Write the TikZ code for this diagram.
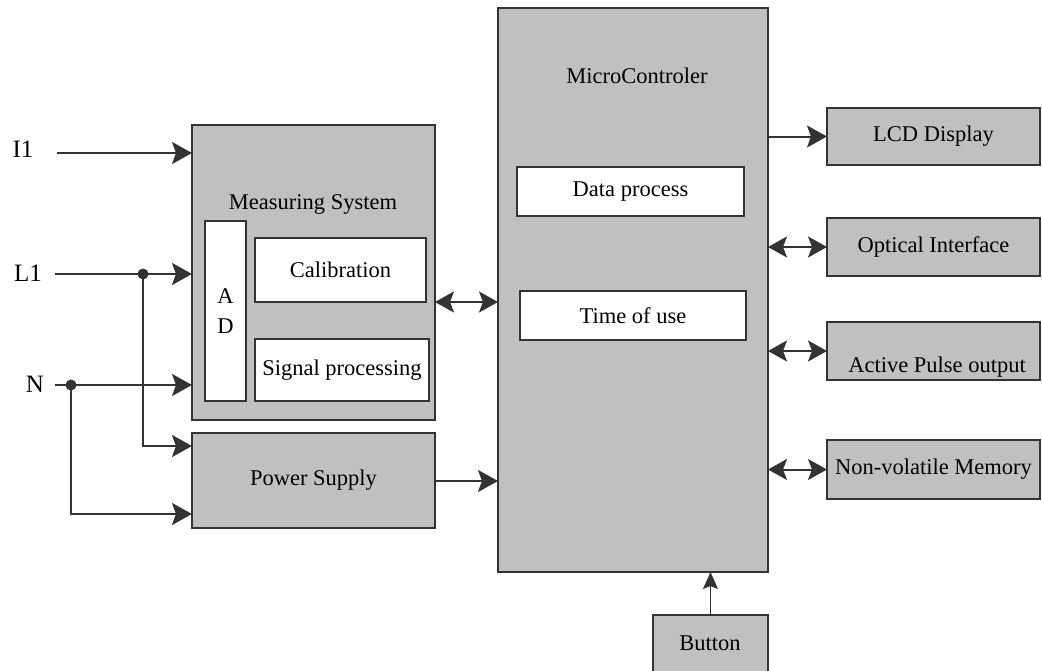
\documentclass[tikz,border=0pt]{standalone}
\usepackage{fontspec}
\setmainfont{Liberation Serif}
\usetikzlibrary{arrows.meta,calc}
\definecolor{boxgray}{HTML}{C0C0C0}
\definecolor{ink}{HTML}{333333}
\begin{document}
\begin{tikzpicture}[x=1pt,y=-1pt,
  box/.style={draw=ink, line width=1.2pt, fill=boxgray, inner sep=0pt, outer sep=0pt, anchor=north west, font=\fontsize{22.5}{30}\selectfont, align=center},
  wbox/.style={box, fill=white},
  txt/.style={inner sep=0pt, font=\fontsize{22.5}{27}\selectfont},
  lbl/.style={inner sep=0pt, font=\fontsize{25}{30}\selectfont},
  wire/.style={draw=ink, line width=2pt},
  arr/.style={wire, -{Stealth[length=20pt,width=22pt,inset=4pt]}},
  darr/.style={wire, {Stealth[length=19pt,width=21pt,inset=4pt]}-{Stealth[length=19pt,width=21pt,inset=4pt]}},
  barr/.style={draw=ink, line width=1pt, -{Stealth[length=17pt,width=15pt,inset=3pt]}},
  dot/.style={circle, fill=ink, inner sep=0pt, minimum size=11pt}]
\useasboundingbox[fill=white] (0,0) rectangle (1042,670);

% left blocks
\node[box, minimum width=243, minimum height=295] (ms) at (192,125) {};
\node[txt] (mst) at (313,204) {Measuring System};
\node[box, minimum width=243, minimum height=95] (ps) at (192,433) {Power Supply};
\node[wbox, minimum width=41, minimum height=180] (ad) at (205,221) {A\\D};
\node[wbox, minimum width=171, minimum height=64] (cal) at (255,238) {Calibration};
\node[wbox, minimum width=174, minimum height=62] (sig) at (255,339) {Signal processing};

% microcontroller
\node[box, minimum width=270, minimum height=564] (mc) at (498,8) {};
\node[txt] (mct) at (637,76) {MicroControler};
\node[wbox, minimum width=227, minimum height=49] (dp) at (517,167) {Data process};
\node[wbox, minimum width=226, minimum height=49] (tou) at (520,291) {Time of use};

% right blocks
\node[box, minimum width=213, minimum height=57] (lcd) at (827,108) {LCD Display};
\node[box, minimum width=213, minimum height=58] (opt) at (827,218) {Optical Interface};
\node[box, minimum width=213, minimum height=58] (apo) at (827,322) {};
\node[txt] (apot) at (937,367) {Active Pulse output};
\node[box, minimum width=213, minimum height=59] (nvm) at (827,440) {Non-volatile Memory};
\node[box, minimum width=115, minimum height=62] (btn) at (653,615) {};
\node[txt] (btnt) at (710,643) {Button};

% input labels
\node[lbl] (i1) at (23,149) {I1};
\node[lbl] (l1) at (28,273) {L1};
\node[lbl] (n) at (35,384) {N};

% inputs
\coordinate (i1s) at (57,153);
\coordinate (l1s) at (55,274);
\coordinate (ns) at (55,385);
\node[dot] (dl1) at (143,274) {};
\node[dot] (dn) at (71,385) {};
\draw[arr] (i1s) -- (i1s -| ms.west);
\draw[arr] (l1s) -- (l1s -| ms.west);
\draw[arr] (ns) -- (ns -| ms.west);
\draw[arr] (dl1.center) |- ($(ps.north west)+(0,13)$);
\draw[arr] (dn.center) |- ($(ps.south west)+(0,-14)$);

% middle
\coordinate (ymid) at (0,302);
\coordinate (ypow) at (0,481);
\draw[darr] (ms.east |- ymid) -- (mc.west |- ymid);
\draw[arr] (ps.east |- ypow) -- (mc.west |- ypow);

% right
\draw[arr] (mc.east |- lcd.west) -- (lcd.west);
\draw[darr] (mc.east |- opt.west) -- (opt.west);
\draw[darr] (mc.east |- apo.west) -- (apo.west);
\draw[darr] (mc.east |- nvm.west) -- (nvm.west);

% button
\draw[barr] (btn.north) -- (btn.north |- mc.south);
\end{tikzpicture}
\end{document}
